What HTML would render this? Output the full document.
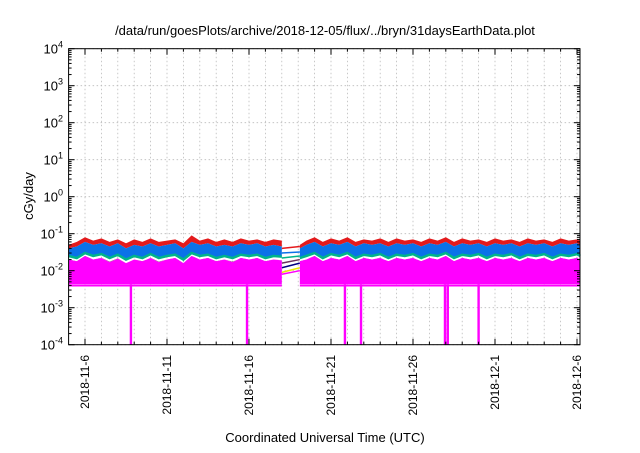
<!DOCTYPE html>
<html><head><meta charset="utf-8"><style>
body{margin:0;background:#fff}
svg text{font-family:"Liberation Sans",sans-serif;fill:#000}
</style></head><body>
<svg id="chart" width="640" height="448" viewBox="0 0 640 448" xmlns="http://www.w3.org/2000/svg">
<text x="325" y="35" font-size="13" text-anchor="middle">/data/run/goesPlots/archive/2018-12-05/flux/../bryn/31daysEarthData.plot</text>
<text transform="translate(33,196) rotate(-90)" font-size="13" text-anchor="middle">cGy/day</text>
<text x="325" y="442" font-size="13" text-anchor="middle">Coordinated Universal Time (UTC)</text>
<g id="grid"></g><g id="data"></g><g id="axes"></g>
</svg>
<script>
// x in days since 2018-11-05 00:00
const xTickDays=[1,6,11,16,21,26,31];
const xTickLabels=["2018-11-6","2018-11-11","2018-11-16","2018-11-21","2018-11-26","2018-12-1","2018-12-6"];
const yTickExps=[-4,-3,-2,-1,0,1,2,3,4];
const t1=[0,0.5,1,1.5,2,2.5,3,3.5,4,4.5,5,5.5,6,6.5,7,7.5,8,8.5,9,9.5,10,10.5,11,11.5,12,12.5,13];
const t2=[14.1,14.5,15,15.5,16,16.5,17,17.5,18,18.5,19,19.5,20,20.5,21,21.5,22,22.5,23,23.5,24,24.5,25,25.5,26,26.5,27,27.5,28,28.5,29,29.5,30,30.5,31,31.2];
// values in cGy/day
const red1=[0.05,0.06,0.08,0.065,0.075,0.06,0.07,0.055,0.07,0.06,0.075,0.06,0.065,0.07,0.055,0.09,0.065,0.075,0.06,0.07,0.06,0.075,0.065,0.07,0.06,0.07,0.065];
const red2=[0.05,0.065,0.08,0.06,0.075,0.065,0.08,0.06,0.07,0.065,0.075,0.06,0.075,0.065,0.07,0.06,0.075,0.065,0.08,0.06,0.075,0.065,0.07,0.06,0.075,0.065,0.07,0.06,0.075,0.065,0.07,0.06,0.075,0.065,0.07,0.065];
const blueTop1=[0.04,0.045,0.06,0.05,0.055,0.045,0.055,0.04,0.05,0.045,0.055,0.045,0.05,0.055,0.04,0.06,0.05,0.055,0.045,0.05,0.045,0.055,0.05,0.055,0.045,0.05,0.045];
const blueTop2=[0.04,0.05,0.06,0.045,0.055,0.05,0.06,0.045,0.055,0.05,0.055,0.045,0.055,0.05,0.055,0.045,0.055,0.05,0.06,0.045,0.055,0.05,0.055,0.045,0.055,0.05,0.055,0.045,0.055,0.05,0.055,0.045,0.055,0.05,0.055,0.05];
const blueBot1=[0.025,0.022,0.03,0.025,0.028,0.022,0.027,0.02,0.025,0.022,0.028,0.022,0.025,0.027,0.02,0.03,0.025,0.027,0.022,0.025,0.022,0.027,0.025,0.027,0.022,0.025,0.024];
const blueBot2=[0.022,0.025,0.03,0.022,0.028,0.025,0.03,0.022,0.027,0.025,0.028,0.022,0.027,0.025,0.028,0.022,0.027,0.025,0.03,0.022,0.027,0.025,0.028,0.022,0.027,0.025,0.028,0.022,0.027,0.025,0.028,0.022,0.027,0.025,0.028,0.025];
const magTop1=[0.02,0.018,0.025,0.02,0.022,0.017,0.021,0.016,0.02,0.018,0.022,0.017,0.02,0.022,0.016,0.025,0.02,0.022,0.018,0.02,0.017,0.022,0.02,0.022,0.018,0.02,0.019];
const magTop2=[0.018,0.02,0.025,0.018,0.022,0.02,0.025,0.018,0.022,0.02,0.022,0.018,0.022,0.02,0.022,0.018,0.022,0.02,0.025,0.018,0.022,0.02,0.022,0.018,0.022,0.02,0.022,0.018,0.022,0.02,0.022,0.018,0.022,0.02,0.022,0.02];
const magFloor=0.0042;
const dropDays=[3.8,10.88,16.85,17.83,22.95,23.12,25.0];
const gapStart=[0.04,0.03,0.022,0.016,0.012,0.009,0.008];
const gapEnd=[0.045,0.032,0.025,0.02,0.016,0.012,0.01];
const gapColors=["#e41a1c","#0a72e8","#00b58a","#6b2f5e","#000080","#e8e800","#ff00ff"];

const L=68.6,R=580,T=48.7,B=344.7,PXD=16.4;
const X=d=>L+d*PXD;
const Y=v=>B-(Math.log10(v)+4)*(B-T)/8;
const NS="http://www.w3.org/2000/svg";
function mk(parent,tag,attrs){const e=document.createElementNS(NS,tag);for(const k in attrs)e.setAttribute(k,attrs[k]);parent.appendChild(e);return e;}
const grid=document.getElementById('grid'),data=document.getElementById('data'),axes=document.getElementById('axes');
for(let d=1;d<=31;d++){const g=mk(grid,'line',{x1:X(d),x2:X(d),y1:T,y2:B,stroke:'#bbb','stroke-width':0.8,'stroke-dasharray':'1.5,2.5'});

}
yTickExps.forEach(e=>{const y=Y(Math.pow(10,e));const g=mk(grid,'line',{x1:L,x2:R,y1:y,y2:y,stroke:'#bbb','stroke-width':0.8,'stroke-dasharray':'1.5,2.5'});

});
function band(ts,top,bot,color,name){let p=ts.map((t,i)=>X(t)+','+Y(top[i]));for(let i=ts.length-1;i>=0;i--)p.push(X(ts[i])+','+Y(typeof bot==='number'?bot:bot[i]));
const e=mk(data,'polygon',{points:p.join(' '),fill:color});

}
function line(ts,vals,color,w,name){const e=mk(data,'polyline',{points:ts.map((t,i)=>X(t)+','+Y(vals[i])).join(' '),fill:'none',stroke:color,'stroke-width':w});

}
gapStart.forEach((v,i)=>{const e=mk(data,'line',{x1:X(13),y1:Y(v),x2:X(14.1),y2:Y(gapEnd[i]),stroke:gapColors[i],'stroke-width':1.5});

});
[[t1,red1,blueTop1,blueBot1,magTop1],[t2,red2,blueTop2,blueBot2,magTop2]].forEach(([t,r,bt,bb,mt],k)=>{
band(t,r,bt,'#e41a1c','red-series');
band(t,bt,bb,'#0a72e8','blue-series');
line(t,bb,'#00b58a',2.5,'teal-series');
band(t,bb.map(v=>v*0.8),mt,'#8b4a7a','brown-series');
band(t,mt,magFloor,'#ff00ff','magenta-series');
line(t,t.map(()=>magFloor*0.93),'#ff00ff',1.5,'magenta-floor');
});
dropDays.forEach(d=>{const e=mk(data,'rect',{x:X(d)-1.2,y:Y(magFloor),width:2.4,height:B-Y(magFloor),fill:'#ff00ff'});

});
const f=mk(axes,'rect',{x:L,y:T,width:R-L,height:B-T,fill:'none',stroke:'#000','stroke-width':1});


for(let d=1;d<=31;d++){const maj=xTickDays.includes(d);const len=maj?6:3;
mk(axes,'line',{x1:X(d),x2:X(d),y1:B,y2:B-len,stroke:'#000'});
mk(axes,'line',{x1:X(d),x2:X(d),y1:T,y2:T+len,stroke:'#000'});}
xTickDays.forEach((d,i)=>{const t=mk(axes,'text',{transform:`translate(${X(d)+4},355) rotate(-90)`,'font-size':12,'text-anchor':'end'});t.textContent=xTickLabels[i];

});
yTickExps.forEach(e=>{const y=Y(Math.pow(10,e));
mk(axes,'line',{x1:L,x2:L+6,y1:y,y2:y,stroke:'#000'});mk(axes,'line',{x1:R,x2:R-6,y1:y,y2:y,stroke:'#000'});
if(e<4)for(let m=2;m<10;m++){const ym=Y(m*Math.pow(10,e));mk(axes,'line',{x1:L,x2:L+3,y1:ym,y2:ym,stroke:'#000'});mk(axes,'line',{x1:R,x2:R-3,y1:ym,y2:ym,stroke:'#000'});}
const t=mk(axes,'text',{x:63,y:y+5,'font-size':13,'text-anchor':'end'});


t.textContent='10';const s=mk(t,'tspan',{dy:-6,'font-size':9});s.textContent=String(e);});
</script>
</body></html>
